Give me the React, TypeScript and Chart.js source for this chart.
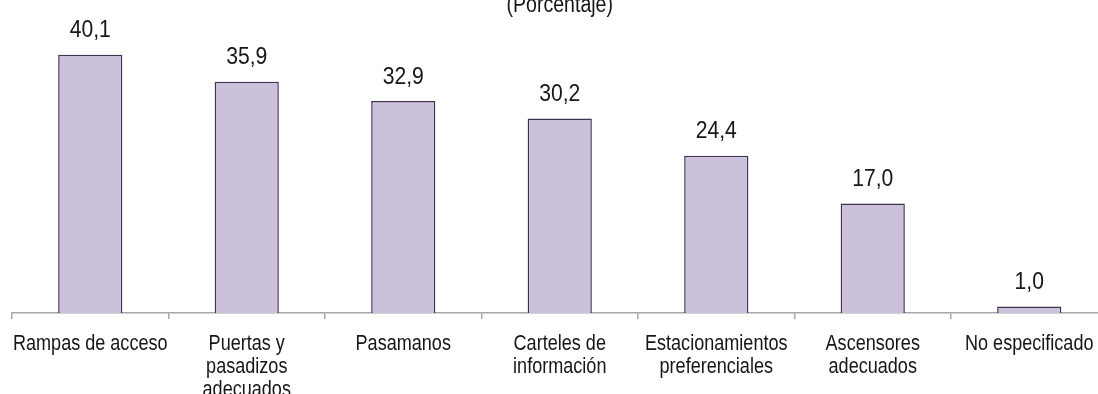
import React, { useEffect, useRef } from 'react';
import { Chart, registerables } from 'chart.js';

Chart.register(...registerables);

const categories: string[][] = [
  ['Rampas de acceso'],
  ['Puertas y', 'pasadizos', 'adecuados'],
  ['Pasamanos'],
  ['Carteles de', 'información'],
  ['Estacionamientos', 'preferenciales'],
  ['Ascensores', 'adecuados'],
  ['No especificado'],
];
const values: number[] = [40.1, 35.9, 32.9, 30.2, 24.4, 17.0, 1.0];
const titleText = '(Porcentaje)';
const yMax = 45;

const FONT = "'Liberation Sans', Arial, sans-serif";
const TEXT = '#161616';

const TITLE_SIZE = 23;
const TITLE_PAD_TOP = 21.5;
const TITLE_LH = 1.2;

// Draws text squeezed horizontally to mimic a narrow (condensed) typeface
function drawCondensed(ctx: CanvasRenderingContext2D, text: string, x: number, y: number, sx: number) {
  ctx.save();
  ctx.translate(x, y);
  ctx.scale(sx, 1);
  ctx.fillText(text, 0, 0);
  ctx.restore();
}

const condensedText = {
  id: 'condensedText',
  afterDraw(chart: any) {
    const ctx: CanvasRenderingContext2D = chart.ctx;
    const xScale = chart.scales.x;
    const meta = chart.getDatasetMeta(0);
    ctx.save();
    ctx.fillStyle = TEXT;
    ctx.textAlign = 'center';

    // value labels
    ctx.textBaseline = 'alphabetic';
    ctx.font = `24px ${FONT}`;
    meta.data.forEach((bar: any, i: number) => {
      drawCondensed(ctx, values[i].toFixed(1).replace('.', ','), bar.x, bar.y - 17.5, 0.88);
    });

    // category labels
    ctx.font = `21.5px ${FONT}`;
    categories.forEach((lines, i) => {
      const x = xScale.getPixelForTick(i);
      lines.forEach((line, j) => {
        drawCondensed(ctx, line, x, xScale.bottom + 30.5 + j * 23, 0.84);
      });
    });

    // title
    const tb = chart.titleBlock;
    if (tb) {
      ctx.font = `${TITLE_SIZE}px ${FONT}`;
      ctx.textBaseline = 'middle';
      const cx = (tb.left + tb.right) / 2;
      const cy = tb.top + TITLE_PAD_TOP + (TITLE_SIZE * TITLE_LH) / 2;
      drawCondensed(ctx, titleText, cx, cy, 0.85);
    }
    ctx.restore();
  },
};

export default function App() {
  const ref = useRef<HTMLCanvasElement | null>(null);
  useEffect(() => {
    if (!ref.current) return;
    const chart = new Chart(ref.current, {
      type: 'bar',
      data: {
        labels: categories,
        datasets: [
          {
            data: values,
            backgroundColor: '#ccc1da',
            borderColor: '#403152',
            borderWidth: 1.5,
            categoryPercentage: 1,
            barPercentage: 0.41,
          },
        ],
      },
      options: {
        responsive: false,
        animation: false,
        devicePixelRatio: 1,
        layout: { padding: { left: 12, right: 12.5, top: 0, bottom: 75 } },
        plugins: {
          legend: { display: false },
          tooltip: { enabled: false },
          title: {
            display: true,
            text: titleText,
            color: 'rgba(0,0,0,0)',
            font: { family: FONT, size: TITLE_SIZE, weight: 'normal', lineHeight: TITLE_LH },
            padding: { top: TITLE_PAD_TOP, bottom: 4 },
          },
        },
        scales: {
          x: {
            offset: true,
            border: { display: true, color: '#a6a6a6', width: 1.5 },
            grid: {
              offset: true,
              drawOnChartArea: false,
              drawTicks: true,
              tickLength: 6,
              color: '#a6a6a6',
              lineWidth: 1.5,
            },
            ticks: { display: false, autoSkip: false, maxRotation: 0 },
          },
          y: {
            display: false,
            min: 0,
            max: yMax,
          },
        },
      },
      plugins: [condensedText],
    });
    return () => chart.destroy();
  }, []);

  return (
    <div
      style={{
        position: 'fixed',
        left: 0,
        top: 0,
        width: 1098,
        height: 394,
        overflow: 'hidden',
        background: '#ffffff',
      }}
    >
      <canvas
        ref={ref}
        width={1120}
        height={424}
        style={{ position: 'absolute', left: 0, top: -30, width: 1120, height: 424 }}
      />
    </div>
  );
}
